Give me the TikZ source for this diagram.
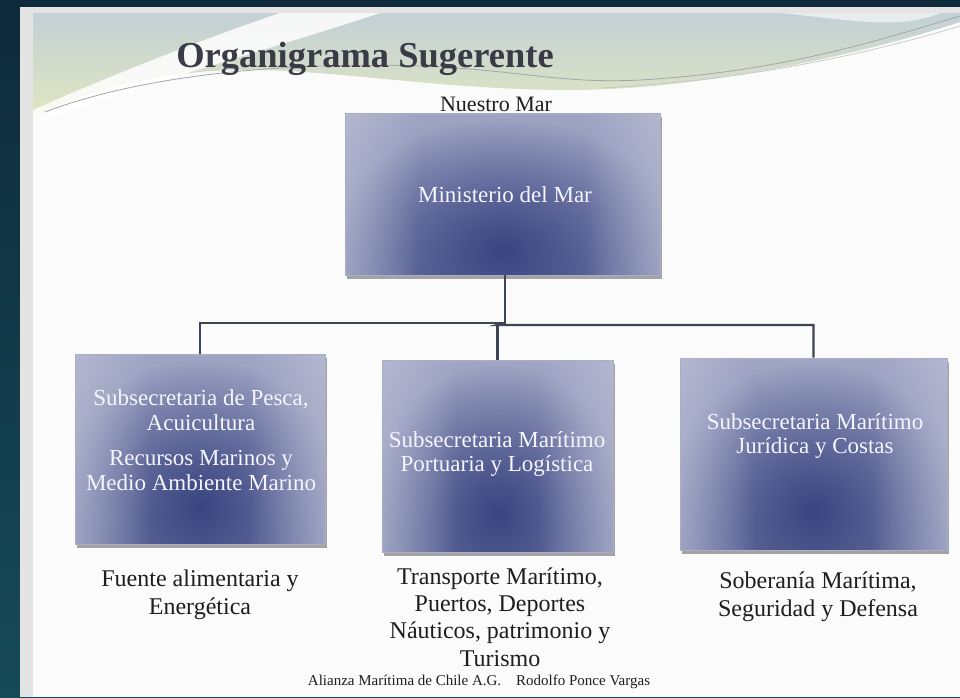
\documentclass[tikz,border=0pt]{standalone}
\usepackage{fontspec}
\setmainfont{Liberation Serif}
\usetikzlibrary{shadows,fadings}
\definecolor{frametop}{HTML}{0E2A3B}
\definecolor{framebot}{HTML}{164A58}
\definecolor{slideborder}{HTML}{E4E4E4}
\definecolor{slidebg}{HTML}{FBFBFB}
\definecolor{bandtop}{HTML}{C3D0D6}
\definecolor{bandbot}{HTML}{E2E8BE}
\definecolor{boxdark}{HTML}{3A4580}
\definecolor{boxtopc}{HTML}{A0A5C4}
\definecolor{boxbotc}{HTML}{737CAA}
\definecolor{boxlight}{HTML}{C2C5D8}
\definecolor{boxedge}{HTML}{A9AEC6}
\definecolor{linkcol}{HTML}{3E4550}
\definecolor{titlecol}{HTML}{3B3B47}
\definecolor{textcol}{HTML}{1E1E1E}
\tikzfading[name=darkspot, inner color=transparent!0, outer color=transparent!100]
\tikzfading[name=edgeleft, left color=transparent!0, right color=transparent!100]
\tikzfading[name=edgeright, left color=transparent!100, right color=transparent!0]
\tikzset{
  orgbox/.style={draw=boxedge, line width=0.6pt, fill=boxlight, inner sep=0pt,
    drop shadow={shadow xshift=1.5pt, shadow yshift=-3.5pt, fill=black, opacity=0.35},
    path picture={
      \shade[top color=boxtopc, bottom color=boxbotc] (path picture bounding box.south west) rectangle (path picture bounding box.north east);
      \fill[boxdark, path fading=darkspot] ([xshift=-15pt,yshift=-110pt]path picture bounding box.south west) rectangle ([xshift=15pt,yshift=-5pt]path picture bounding box.north east);
      \fill[boxlight, opacity=0.9, path fading=edgeleft] ([xshift=-45pt]path picture bounding box.south west) rectangle ([xshift=75pt]path picture bounding box.north west);
      \fill[boxlight, opacity=0.9, path fading=edgeright] ([xshift=-75pt]path picture bounding box.south east) rectangle ([xshift=45pt]path picture bounding box.north east);
      \draw[white, opacity=0.7, line width=2.5pt] (path picture bounding box.north west) -- (path picture bounding box.north east);
    }},
  boxtext/.style={text=white!96!blue, align=center, font=\fontsize{23}{24.5}\selectfont, inner sep=0pt},
  undertext/.style={text=textcol, align=center, font=\fontsize{24}{28}\selectfont, inner sep=0pt},
  link/.style={draw=linkcol, line width=2.4pt}
}
\begin{document}
\begin{tikzpicture}[x=1pt,y=-1pt]
\useasboundingbox (0,0) rectangle (960,697);
% frame and slide
\shade[top color=frametop, bottom color=framebot] (0,0) rectangle (960,697);
\fill[slideborder] (20,7) rectangle (960,697);
\fill[slidebg] (33,13) rectangle (960,697);
% decorative band
\shade[top color=bandtop, bottom color=bandbot] (33,13) -- (960,13) -- (960,22)
  .. controls (860,55) and (700,90) .. (570,90)
  .. controls (420,90) and (300,62) .. (200,72)
  .. controls (120,80) and (60,100) .. (33,122) -- cycle;
\fill[white, opacity=0.85] (280,13) .. controls (200,40) and (100,80) .. (33,110) -- (33,124)
  .. controls (150,82) and (300,40) .. (380,13) -- cycle;
\fill[white, opacity=0.6] (780,13) .. controls (850,20) and (900,30) .. (940,13) -- cycle;
\draw[gray!70, line width=0.8pt] (45,112) .. controls (150,72) and (300,62) .. (420,66)
  .. controls (520,70) and (560,84) .. (640,80) .. controls (780,72) and (880,40) .. (960,16);
\draw[gray!45, line width=0.7pt] (600,88) .. controls (760,80) and (880,50) .. (960,26);
% title texts
\node[anchor=base, text=titlecol, font=\bfseries\fontsize{36.5}{40}\selectfont, inner sep=0pt] (title) at (365,67) {Organigrama Sugerente};
\node[anchor=base, text=textcol, font=\fontsize{22}{24}\selectfont, inner sep=0pt] (nuestro) at (496,111) {Nuestro Mar};
% boxes
\node[orgbox, minimum width=315pt, minimum height=162pt] (top) at (502.5,194) {};
\node[orgbox, minimum width=250pt, minimum height=190pt] (left) at (200,449) {};
\node[orgbox, minimum width=231pt, minimum height=192pt] (mid) at (497.5,456) {};
\node[orgbox, minimum width=267pt, minimum height=192pt] (right) at (813.5,454) {};
% connectors
\coordinate (jt) at (505,323);
\coordinate (jm) at (497.5,325);
\draw[link] (top.south -| jt) -- (jt) -| (left.north);
\draw[link] (jt) -- (jm) -| (right.north);
\draw[link] (jm) -- (mid.north);
% box texts
\node[boxtext] (tTop) at (505,195) {Ministerio del Mar};
\node[boxtext] (tLeft) at (201,440) {Subsecretaria de Pesca,\\Acuicultura\\[11pt]Recursos Marinos y\\Medio Ambiente Marino};
\node[boxtext] (tMid) at (497,454) {Subsecretaria Marítimo\\Portuaria y Logística};
\node[boxtext] (tRight) at (815,436) {Subsecretaria Marítimo\\Jurídica y Costas};
% under texts
\node[undertext] (uLeft) at (200,595) {Fuente alimentaria y\\Energética};
\node[undertext, font=\fontsize{24}{27.3}\selectfont] (uMid) at (500,617) {Transporte Marítimo,\\Puertos, Deportes\\Náuticos, patrimonio y\\Turismo};
\node[undertext] (uRight) at (818,597) {Soberanía Marítima,\\Seguridad y Defensa};
\node[text=textcol, font=\fontsize{15}{17}\selectfont, inner sep=0pt] (footer) at (479,682) {Alianza Marítima de Chile A.G.\hspace{1em}Rodolfo Ponce Vargas};
\end{tikzpicture}
\end{document}
